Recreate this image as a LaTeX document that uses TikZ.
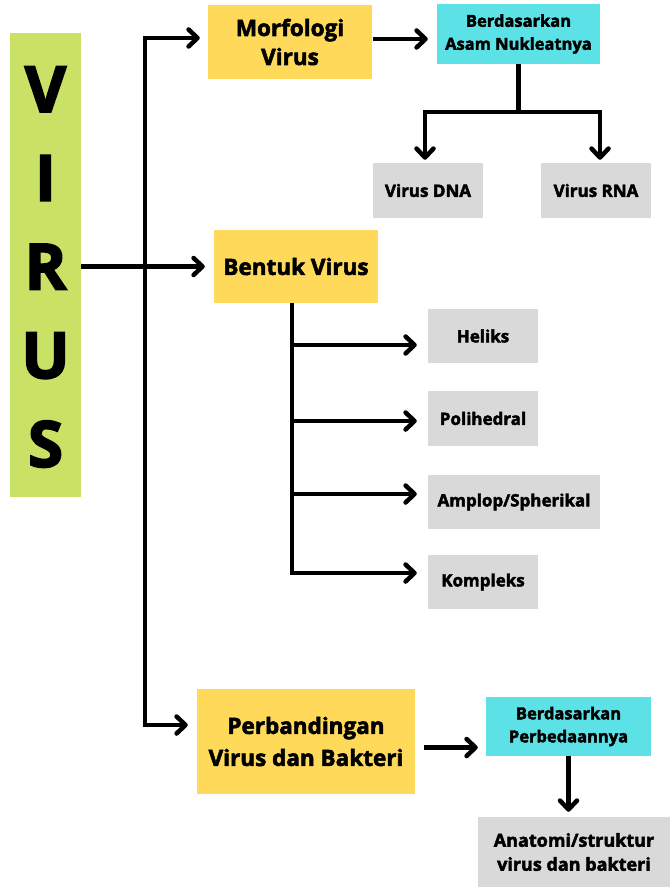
\documentclass[tikz,border=0pt]{standalone}
\usepackage{fontspec}
\setmainfont{Open Sans}
\newfontfamily\heavyfont{Open Sans Bold}[FakeBold=2.5]
\usetikzlibrary{arrows.meta}
\definecolor{vgreen}{HTML}{C9E265}
\definecolor{vyellow}{HTML}{FFD95A}
\definecolor{vcyan}{HTML}{5CE1E6}
\definecolor{vgray}{HTML}{D9D9D9}
\begin{document}
\begin{tikzpicture}[x=1pt,y=-1pt,
  box/.style={inner sep=0pt, align=center, font=\heavyfont, text=black},
  ybox/.style={box, fill=vyellow, font=\heavyfont\fontsize{22.5}{29}\selectfont},
  cbox/.style={box, fill=vcyan, font=\heavyfont\fontsize{16.5}{23}\selectfont},
  gbox/.style={box, fill=vgray, font=\heavyfont\fontsize{17}{23}\selectfont},
  wire/.style={line width=4.5pt, line cap=butt},
  conn/.style={wire, -{Straight Barb[length=9pt,width=17pt,line width=4.5pt,round]}},
]
\useasboundingbox (0,0) rectangle (670,888);
\fill[white] (0,0) rectangle (670,888);

% title bar
\node[box, fill=vgreen, minimum width=71pt, minimum height=464pt] (virus) at (45.5,265) {};
\node[box, font=\heavyfont\fontsize{64}{88.7}\selectfont] (title) at (45.5,267) {V\\I\\R\\U\\S};

% first level
\node[ybox, minimum width=164pt, minimum height=74pt] (morf) at (290,42) {Morfologi\\Virus};
\node[ybox, minimum width=164pt, minimum height=73pt] (bentuk) at (296,266.5) {Bentuk Virus};
\node[ybox, minimum width=218pt, minimum height=105pt, font=\heavyfont\fontsize{22.5}{32}\selectfont] (perb) at (306,741.5) {Perbandingan\\Virus dan Bakteri};

% second level
\node[cbox, minimum width=163pt, minimum height=60pt] (asam) at (518.5,34) {Berdasarkan\\Asam Nukleatnya};
\node[cbox, minimum width=165pt, minimum height=59pt] (beda) at (568.5,726.5) {Berdasarkan\\Perbedaannya};

% leaves
\node[gbox, minimum width=110pt, minimum height=55pt] (dna) at (428,190.5) {Virus DNA};
\node[gbox, minimum width=110pt, minimum height=55pt] (rna) at (596,190.5) {Virus RNA};
\node[gbox, minimum width=110pt, minimum height=54pt] (heliks) at (483,336) {Heliks};
\node[gbox, minimum width=110pt, minimum height=55pt] (poli) at (483,418.5) {Polihedral};
\node[gbox, minimum width=172pt, minimum height=54pt] (amplop) at (514,502) {Amplop/Spherikal};
\node[gbox, minimum width=110pt, minimum height=54pt] (komp) at (483,582) {Kompleks};
\node[gbox, minimum width=192pt, minimum height=70pt, font=\heavyfont\fontsize{18}{24}\selectfont] (anat) at (574,852) {Anatomi/struktur\\virus dan bakteri};

% main trunk
\coordinate (jtop) at (145,38);
\coordinate (jmid) at (145,266.5);
\coordinate (jbot) at (145,725);
\draw[conn, shorten >=8pt] (jmid) -- (jtop) -- (jtop -| morf.west);
\draw[conn, shorten >=9pt] (jmid) -- (jbot) -- (jbot -| perb.west);
\draw[conn, shorten >=9pt] (virus.east |- bentuk) -- (bentuk.west);

% Morfologi branch
\draw[conn, shorten <=1pt, shorten >=9pt] ([yshift=3pt]morf.east) -- ([yshift=3pt]morf.east -| asam.west);
\coordinate (split) at (asam.south |- 0,112);
\draw[wire] (asam.south) -- (split);
\draw[conn, shorten >=3pt] (split) -| ([xshift=-3pt]dna.north);
\draw[conn, shorten >=3pt] (split) -| ([xshift=4pt]rna.north);

% Bentuk branch
\coordinate (s1) at (292,345);
\coordinate (s2) at (292,421);
\coordinate (s3) at (292,494);
\coordinate (s4) at (292,573);
\draw[wire] (bentuk.south -| s1) -- ([yshift=-2.25pt]s4);
\draw[conn, shorten >=11pt] (s1) -- (s1 -| heliks.west);
\draw[conn, shorten >=11pt] (s2) -- (s2 -| poli.west);
\draw[conn, shorten >=11pt] (s3) -- (s3 -| amplop.west);
\draw[conn, shorten >=11pt] ([xshift=-2.25pt]s4) -- (s4 -| komp.west);

% Perbandingan branch
\draw[conn, shorten <=9pt, shorten >=8pt] ([yshift=-6pt]perb.east) -- ([yshift=-6pt]perb.east -| beda.west);
\draw[conn, shorten >=5pt] (beda.south) -- (beda.south |- anat.north);
\end{tikzpicture}
\end{document}
